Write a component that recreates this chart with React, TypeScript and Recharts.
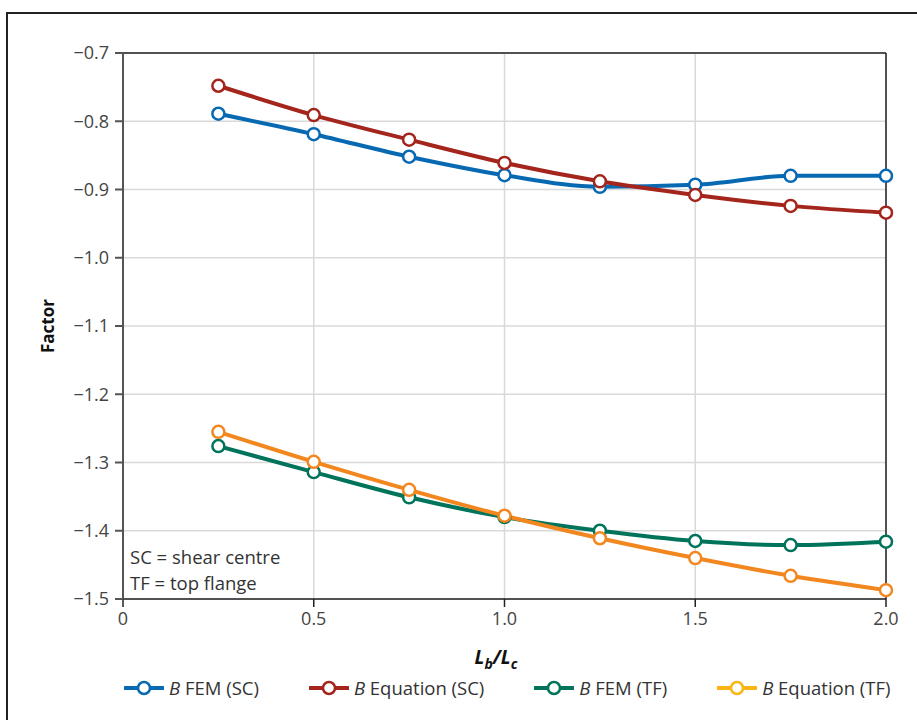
import React from "react";
import { LineChart, Line, XAxis, YAxis, CartesianGrid, ReferenceLine } from "recharts";

const lengthRatio = [0.25, 0.5, 0.75, 1.0, 1.25, 1.5, 1.75, 2.0];
const femSC = [-0.789, -0.819, -0.852, -0.879, -0.896, -0.893, -0.88, -0.88];
const eqSC = [-0.748, -0.791, -0.827, -0.861, -0.888, -0.908, -0.924, -0.934];
const femTF = [-1.276, -1.314, -1.351, -1.38, -1.4, -1.415, -1.421, -1.416];
const eqTF = [-1.255, -1.299, -1.34, -1.378, -1.411, -1.44, -1.466, -1.487];

const xTicks = [0, 0.5, 1.0, 1.5, 2.0];
const yTicks = [-1.5, -1.4, -1.3, -1.2, -1.1, -1.0, -0.9, -0.8, -0.7];

const series = [
  { key: "femSC", name: "FEM (SC)", color: "#0869B3", legendColor: "#0869B3" },
  { key: "eqSC", name: "Equation (SC)", color: "#A4251C", legendColor: "#A4251C" },
  { key: "femTF", name: "FEM (TF)", color: "#00735B", legendColor: "#00735B" },
  { key: "eqTF", name: "Equation (TF)", color: "#F3871F", legendColor: "#FDB515" },
];

const data = lengthRatio.map((x, i) => ({
  x,
  femSC: femSC[i],
  eqSC: eqSC[i],
  femTF: femTF[i],
  eqTF: eqTF[i],
}));

const FONT = "'Open Sans', sans-serif";
const fmtY = (v: number) => v.toFixed(1).replace("-", "\u2212");
const fmtX = (v: number) => (v === 0 ? "0" : v.toFixed(1));

function LegendIcon({ color }: { color: string }) {
  return (
    <svg width={40} height={16}>
      <line x1={1} y1={8} x2={39} y2={8} stroke={color} strokeWidth={4} strokeLinecap="round" />
      <circle cx={20} cy={8} r={6} fill="#fff" stroke={color} strokeWidth={2.5} />
    </svg>
  );
}

export default function App() {
  return (
    <div style={{ position: "absolute", left: 0, top: 0, width: 917, height: 720, background: "#fff", fontFamily: FONT, overflow: "hidden" }}>
      <div
        style={{
          position: "absolute",
          left: 6,
          top: 12,
          width: 911,
          height: 708,
          borderLeft: "2px solid #222",
          borderTop: "2px solid #222",
          boxSizing: "border-box",
        }}
      />
      <LineChart width={917} height={720} data={data} margin={{ top: 53, right: 31, left: 43, bottom: 61 }}>
        <CartesianGrid stroke="#d9d9d9" strokeWidth={1.5} />
        <XAxis
          dataKey="x"
          type="number"
          domain={[0, 2]}
          ticks={xTicks}
          tickFormatter={fmtX}
          height={60}
          tickSize={8}
          tickMargin={5}
          stroke="#222"
          strokeWidth={1.5}
          tick={{ fill: "#444", fontSize: 18, fontFamily: FONT }}
        />
        <YAxis
          type="number"
          domain={[-1.5, -0.7]}
          ticks={yTicks}
          tickFormatter={fmtY}
          width={80}
          tickSize={8}
          tickMargin={6}
          stroke="#555"
          strokeWidth={2}
          tick={{ fill: "#444", fontSize: 18, fontFamily: FONT }}
        />
        <ReferenceLine y={-0.7} stroke="#222" strokeWidth={1.5} />
        <ReferenceLine x={2} stroke="#222" strokeWidth={1.5} />
        {series.map((s) => (
          <Line
            key={s.key}
            type="monotone"
            dataKey={s.key}
            stroke={s.color}
            strokeWidth={4}
            dot={{ r: 6, fill: "#fff", stroke: s.color, strokeWidth: 2.5 }}
            activeDot={false}
            isAnimationActive={false}
          />
        ))}
      </LineChart>

      <div
        style={{
          position: "absolute",
          left: 47,
          top: 326,
          transform: "translate(-50%, -50%) rotate(-90deg)",
          fontWeight: 700,
          fontSize: 17,
          color: "#111",
          whiteSpace: "nowrap",
        }}
      >
        Factor
      </div>

      <div
        style={{
          position: "absolute",
          left: 496,
          top: 644,
          transform: "translateX(-50%)",
          fontWeight: 700,
          fontStyle: "italic",
          fontSize: 19,
          color: "#111",
          whiteSpace: "nowrap",
        }}
      >
        L<sub style={{ fontSize: 14 }}>b</sub>/L<sub style={{ fontSize: 14 }}>c</sub>
      </div>

      <div style={{ position: "absolute", left: 130, top: 544, fontSize: 18.5, lineHeight: "26px", color: "#333" }}>
        <div>SC = shear centre</div>
        <div>TF = top flange</div>
      </div>

      <div style={{ position: "absolute", left: 124, top: 675, display: "flex", gap: 50, alignItems: "center" }}>
        {series.map((s) => (
          <div key={s.key} style={{ display: "flex", alignItems: "center", gap: 5, fontSize: 18.5, color: "#333" }}>
            <LegendIcon color={s.legendColor} />
            <span>
              <i>B</i> {s.name}
            </span>
          </div>
        ))}
      </div>
    </div>
  );
}
